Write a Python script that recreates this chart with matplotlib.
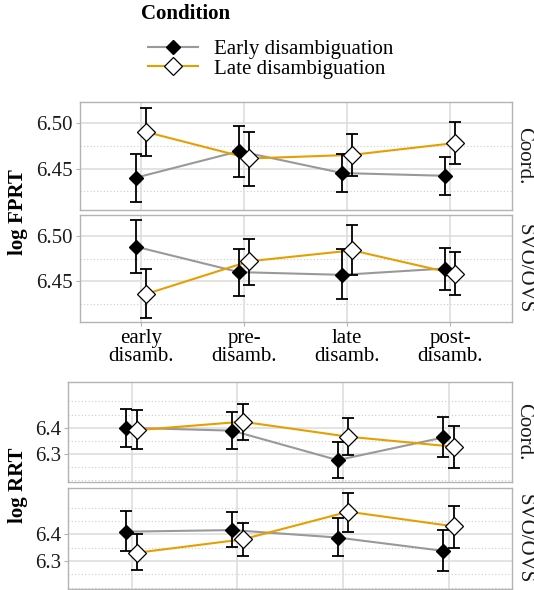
import numpy as np
import matplotlib
matplotlib.use('Agg')
import matplotlib.pyplot as plt
from matplotlib.lines import Line2D
from matplotlib.transforms import blended_transform_factory

plt.rcParams['font.family'] = ['Liberation Serif', 'DejaVu Serif']

# Regions on the x axis
regions = ['early\ndisamb.', 'pre-\ndisamb.', 'late\ndisamb.', 'post-\ndisamb.']
conditions = ['Early disambiguation', 'Late disambiguation']
facets = ['Coord.', 'SVO/OVS']

# log FPRT, Coord.
fprt_coord_early = [6.440, 6.469, 6.445, 6.442]
fprt_coord_early_lo = [6.413, 6.441, 6.424, 6.421]
fprt_coord_early_hi = [6.466, 6.497, 6.466, 6.463]
fprt_coord_late = [6.490, 6.461, 6.465, 6.478]
fprt_coord_late_lo = [6.464, 6.431, 6.442, 6.455]
fprt_coord_late_hi = [6.516, 6.490, 6.488, 6.501]

# log FPRT, SVO/OVS
fprt_svo_early = [6.488, 6.460, 6.457, 6.464]
fprt_svo_early_lo = [6.459, 6.434, 6.430, 6.440]
fprt_svo_early_hi = [6.518, 6.486, 6.485, 6.487]
fprt_svo_late = [6.436, 6.472, 6.484, 6.458]
fprt_svo_late_lo = [6.409, 6.446, 6.457, 6.435]
fprt_svo_late_hi = [6.463, 6.496, 6.512, 6.482]

# log RRT, Coord.
rrt_coord_early = [6.400, 6.389, 6.277, 6.363]
rrt_coord_early_lo = [6.327, 6.319, 6.210, 6.287]
rrt_coord_early_hi = [6.471, 6.461, 6.347, 6.442]
rrt_coord_late = [6.391, 6.423, 6.366, 6.328]
rrt_coord_late_lo = [6.318, 6.352, 6.296, 6.246]
rrt_coord_late_hi = [6.469, 6.491, 6.438, 6.406]

# log RRT, SVO/OVS
rrt_svo_early = [6.410, 6.416, 6.388, 6.338]
rrt_svo_early_lo = [6.338, 6.352, 6.319, 6.263]
rrt_svo_early_hi = [6.486, 6.484, 6.463, 6.416]
rrt_svo_late = [6.331, 6.381, 6.485, 6.430]
rrt_svo_late_lo = [6.268, 6.320, 6.409, 6.350]
rrt_svo_late_hi = [6.400, 6.442, 6.556, 6.505]

fprt_ticks = [6.45, 6.50]
fprt_ticklabels = ['6.45', '6.50']
fprt_minor = [6.425, 6.475]
rrt_ticks = [6.3, 6.4]
rrt_ticklabels = ['6.3', '6.4']
rrt_minor = [6.20, 6.25, 6.35, 6.45, 6.50]

W, H = 534, 590
fig = plt.figure(figsize=(W / 100, H / 100), dpi=100)


def box(x0, y0, x1, y1):
    return [x0 / W, 1 - y1 / H, (x1 - x0) / W, (y1 - y0) / H]


GRAY = '#999999'
ORANGE = '#E69F00'
FS = 15


def draw_panel(ax, early, e_lo, e_hi, late, l_lo, l_hi, ylim, ticks, ticklabels,
               minor, strip, xlabels):
    x = np.arange(1, len(regions) + 1)
    xe = x - 0.05
    xl = x + 0.05
    early, e_lo, e_hi = map(np.array, (early, e_lo, e_hi))
    late, l_lo, l_hi = map(np.array, (late, l_lo, l_hi))
    ax.plot(xe, early, color=GRAY, lw=1.5, zorder=2)
    ax.plot(xl, late, color=ORANGE, lw=1.5, zorder=2)
    ax.errorbar(xe, early, yerr=[early - e_lo, e_hi - early], fmt='none',
                ecolor='black', elinewidth=1.3, capsize=4.2, capthick=1.3, zorder=3)
    ax.errorbar(xl, late, yerr=[late - l_lo, l_hi - late], fmt='none',
                ecolor='black', elinewidth=1.3, capsize=4.2, capthick=1.3, zorder=3)
    ax.plot(xe, early, 'D', color='black', ms=6.8, zorder=4)
    ax.plot(xl, late, 'D', mfc='white', mec='black', mew=0.9, ms=8.8, zorder=5)

    ax.set_xlim(0.4, 4.6)
    ax.set_ylim(*ylim)
    ax.set_yticks(ticks)
    ax.set_yticklabels(ticklabels)
    for m in minor:
        ax.axhline(m, color='#cccccc', lw=0.8, ls=(0, (1, 2)), zorder=0)
    for t in ticks:
        ax.axhline(t, color='#dedede', lw=1.2, zorder=0)
    for xv in x:
        ax.axvline(xv, color='#dedede', lw=1.2, zorder=0)
    ax.set_xticks(x)
    if xlabels:
        ax.set_xticklabels(regions, fontsize=FS, linespacing=0.95)
        ax.tick_params(axis='x', length=3, color='#b3b3b3', pad=2)
    else:
        ax.set_xticklabels([])
        ax.tick_params(axis='x', length=0)
    ax.tick_params(axis='y', length=3, color='#b3b3b3', labelsize=FS, pad=2,
                   labelcolor='#1a1a1a')
    for s in ax.spines.values():
        s.set_color('#b3b3b3')
        s.set_linewidth(1.0)
    # facet strip on the right
    trans = blended_transform_factory(fig.transFigure, ax.transAxes)
    ax.text(524 / W, 0.5, strip, transform=trans, rotation=270,
            va='center', ha='center', fontsize=FS, color='#1a1a1a')


ax1 = fig.add_axes(box(79.5, 102, 512, 209.5))
ax2 = fig.add_axes(box(79.5, 215, 512, 322))
ax3 = fig.add_axes(box(68.3, 381.7, 512, 481.7))
ax4 = fig.add_axes(box(68.3, 487.7, 512, 589))

fprt_ylim = (6.405, 6.523)
rrt_ylim = (6.195, 6.575)

draw_panel(ax1, fprt_coord_early, fprt_coord_early_lo, fprt_coord_early_hi,
           fprt_coord_late, fprt_coord_late_lo, fprt_coord_late_hi,
           fprt_ylim, fprt_ticks, fprt_ticklabels, fprt_minor, facets[0], False)
draw_panel(ax2, fprt_svo_early, fprt_svo_early_lo, fprt_svo_early_hi,
           fprt_svo_late, fprt_svo_late_lo, fprt_svo_late_hi,
           fprt_ylim, fprt_ticks, fprt_ticklabels, fprt_minor, facets[1], True)
draw_panel(ax3, rrt_coord_early, rrt_coord_early_lo, rrt_coord_early_hi,
           rrt_coord_late, rrt_coord_late_lo, rrt_coord_late_hi,
           rrt_ylim, rrt_ticks, rrt_ticklabels, rrt_minor, facets[0], False)
draw_panel(ax4, rrt_svo_early, rrt_svo_early_lo, rrt_svo_early_hi,
           rrt_svo_late, rrt_svo_late_lo, rrt_svo_late_hi,
           rrt_ylim, rrt_ticks, rrt_ticklabels, rrt_minor, facets[1], False)

fig.text(18 / W, 1 - 212 / H, 'log FPRT', rotation=90, fontsize=FS,
         fontweight='bold', ha='center', va='center')
fig.text(18 / W, 1 - 485 / H, 'log RRT', rotation=90, fontsize=FS,
         fontweight='bold', ha='center', va='center')

# Legend
fig.text(141 / W, 1 - 14 / H, 'Condition', fontsize=FS, fontweight='bold',
         ha='left', va='center')
handles = [
    Line2D([], [], color=GRAY, lw=1.5, marker='D', mfc='black', mec='black', ms=6.8),
    Line2D([], [], color=ORANGE, lw=1.5, marker='D', mfc='white', mec='black', mew=0.9, ms=8.8),
]
leg = fig.legend(handles, conditions, loc='upper left',
                 bbox_to_anchor=(133 / W, 1 - 25 / H), frameon=False,
                 fontsize=FS, handlelength=2.4, handletextpad=0.8,
                 labelspacing=0.0, borderpad=0.2)

fig.savefig('out.png', dpi=100)
